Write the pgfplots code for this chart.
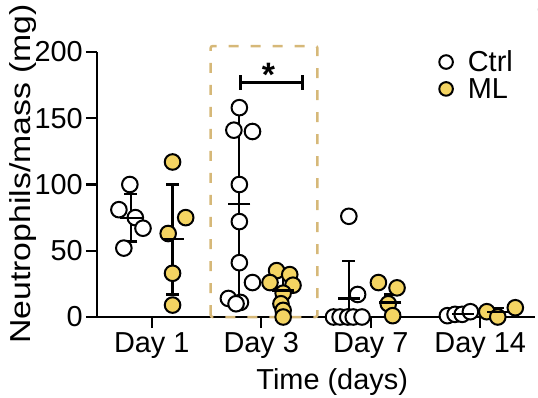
\documentclass[border=0pt]{standalone}
\usepackage{pgfplots}
\pgfplotsset{compat=1.18}
\usepackage{fontspec}
\setmainfont{Liberation Sans}
\definecolor{mlfill}{RGB}{244,212,98}
\definecolor{boxcol}{RGB}{214,184,120}
\begin{document}
\begin{tikzpicture}
\useasboundingbox (-97bp,-81bp) rectangle (441bp,317bp);
\begin{axis}[
  at={(0,0)}, anchor=south west,
  scale only axis, width=438bp, height=265bp,
  xmin=-0.5, xmax=3.5, ymin=0, ymax=200,
  axis lines=left, axis line style={line width=2.4bp, -},
  xtick={0,1,2,3}, xticklabels={Day 1,Day 3,Day 7,Day 14},
  ytick={0,50,100,150,200},
  tick align=outside, major tick length=11bp,
  tick style={line width=2.4bp, black},
  ticklabel style={font=\fontsize{29}{32}\selectfont},
  xticklabel style={inner sep=1bp, yshift=-3bp},
  yticklabel style={inner sep=1bp, xshift=-2bp},
  /pgf/number format/assume math mode=true,
  ylabel={\scalebox{1.17}[1]{Neutrophils/mass (mg)}},
  ylabel style={font=\fontsize{29}{32}\selectfont, at={(axis description cs:-0.17,0.54)}, anchor=center},
  xlabel={Time (days)},
  xlabel style={font=\fontsize{29}{32}\selectfont, at={(axis description cs:0.537,-0.275)}, anchor=base},
  clip=false,
  legend style={draw=none, fill=none, font=\fontsize{29}{32}\selectfont,
    at={(rel axis cs:0.781,1.009)}, anchor=north west, row sep=3bp,
    inner sep=0bp, nodes={inner xsep=5bp, inner ysep=1bp}},
  legend cell align=left,
]
\addlegendimage{only marks, mark=*, mark size=6.8bp, mark options={fill=white, draw=black, line width=2bp}}
\addlegendentry{\hspace{10bp}Ctrl}
\addlegendimage{only marks, mark=*, mark size=6.8bp, mark options={fill=mlfill, draw=black, line width=2bp}}
\addlegendentry{\hspace{10bp}ML}

% Ctrl individual points
\addplot[forget plot, only marks, mark=*, mark size=7.8bp, mark options={fill=white, draw=black, line width=2bp}]
table[x=x, y=y]{
x y
-0.20 100
-0.30 81
-0.15 75
-0.08 67
-0.255 52
0.80 158
0.75 141
0.92 140
0.80 100
0.80 72
0.80 41
0.92 26
0.70 14
0.81 11
0.77 10
1.80 76
1.88 17
1.66 0
1.72 0
1.79 0
1.84 0
1.92 0
2.70 1
2.77 2
2.835 2
2.91 4
};

% ML individual points
\addplot[forget plot, only marks, mark=*, mark size=7.8bp, mark options={fill=mlfill, draw=black, line width=2bp}]
table[x=x, y=y]{
x y
0.19 117
0.31 75
0.15 63
0.19 33
0.19 9
1.14 35
1.26 32
1.08 26
1.29 24
1.20 18
1.18 10
1.20 5
1.20 0
2.07 26
2.24 22
2.16 10
2.20 1
3.06 4
3.16 0
3.32 7
};

% mean +/- SD
\addplot[forget plot, black, only marks, mark=-, mark size=11bp, mark options={line width=2.2bp},
  error bars/.cd, y dir=both, y explicit,
  error bar style={line width=2.2bp, black},
  error mark options={line width=2.2bp, mark size=6.5bp, black, rotate=90}]
table[x=x, y=m, y error plus=ep, y error minus=em]{
x m ep em
-0.19 75 18 18
0.19 59 41 42
0.80 85 71 71
1.20 20 12 12
1.80 14 28 14
2.18 11 6 6
2.84 2 1.5 1.5
3.16 3.5 3 3
};

% significance bracket
\draw[line width=2.2bp] (axis cs:0.81,177) -- (axis cs:1.376,177);
\draw[line width=2.2bp] (axis cs:0.81,171.5) -- (axis cs:0.81,182.5);
\draw[line width=2.2bp] (axis cs:1.376,171.5) -- (axis cs:1.376,182.5);
\node[font=\bfseries\fontsize{34}{34}\selectfont, anchor=base] at (axis cs:1.067,174) {*};

% highlight box
\draw[boxcol, line width=2.5bp, dash pattern=on 10bp off 12bp, rounded corners=2bp]
  (axis cs:0.538,0) rectangle (axis cs:1.513,204.5);
\end{axis}
\node[font=\bfseries\fontsize{29}{32}\selectfont] at (448bp,307bp) {c};
\end{tikzpicture}
\end{document}
